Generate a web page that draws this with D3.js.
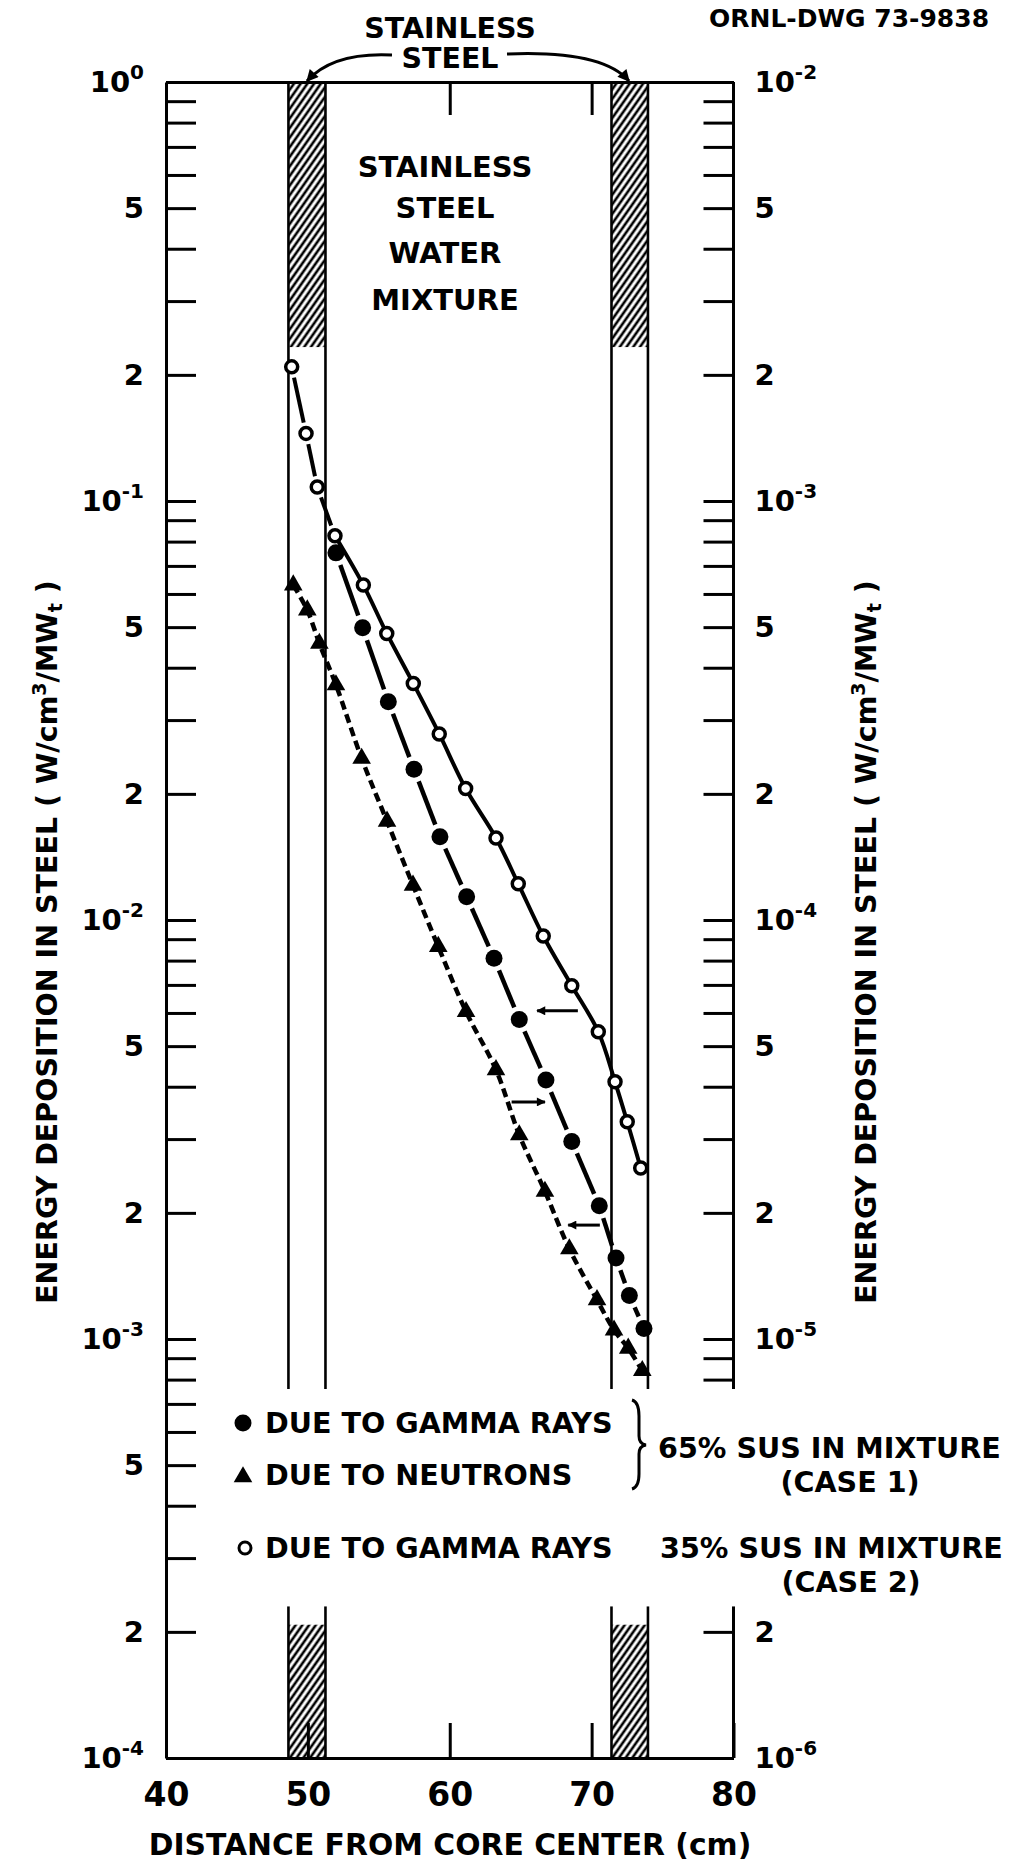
<!DOCTYPE html>
<meta charset="utf-8">
<style>
  body { margin: 0; background: #fff; }
  text { font-family: "DejaVu Sans", sans-serif; font-weight: bold; fill: #000; }
  .ylab text { font-size: 29px; }
  .xlab text { font-size: 33px; }
  .axis path, .axis line { stroke: #000; stroke-width: 3; }
</style>
<body>
<svg id="chart" width="1015" height="1867"></svg>

<script src="https://d3js.org/d3.v7.min.js"></script>
<script>
// ---- data ----
// 65% SUS (case 1), gamma rays, left axis (W/cm3/MWt)
var gamma1X = [51.98, 53.86, 55.67, 57.48, 59.31, 61.19, 63.12, 64.90, 66.78, 68.60, 70.54, 71.72, 72.66, 73.69];
var gamma1Y = [0.0752, 0.0498, 0.0332, 0.0229, 0.0158, 0.01137, 0.0081, 0.00579, 0.00415, 0.00296, 0.00208, 0.00156, 0.00127, 0.00106];
// 65% SUS (case 1), neutrons, right axis
var neutronX = [48.97, 49.96, 50.81, 51.98, 53.79, 55.58, 57.41, 59.19, 61.15, 63.26, 64.90, 66.71, 68.43, 70.38, 71.58, 72.58, 73.57];
var neutronY = [6.30e-4, 5.49e-4, 4.57e-4, 3.64e-4, 2.43e-4, 1.72e-4, 1.21e-4, 8.64e-5, 6.04e-5, 4.39e-5, 3.07e-5, 2.25e-5, 1.64e-5, 1.24e-5, 1.05e-5, 9.5e-6, 8.4e-6];
// 35% SUS (case 2), gamma rays, left axis
var gamma2X = [48.86, 49.87, 50.66, 51.91, 53.91, 55.56, 57.43, 59.26, 61.12, 63.26, 64.83, 66.59, 68.60, 70.47, 71.65, 72.51, 73.46];
var gamma2Y = [0.209, 0.145, 0.108, 0.0826, 0.0630, 0.0483, 0.0367, 0.0278, 0.0206, 0.0157, 0.0122, 0.00916, 0.00697, 0.00541, 0.00411, 0.00330, 0.00256];

// steel walls (cm) and hatched parts (left-axis values)
var steelCm = [[48.63, 51.24], [71.40, 73.97]];
var hatchBands = [[1, 0.233], [2.08e-4, 1e-4]];
var legendGap = [7.6e-4, 2.3e-4];

// little arrows saying which axis a curve uses (left-axis units)
var arrowFrom = [69.03, 64.36, 70.58];
var arrowTo = [66.16, 66.71, 68.35];
var arrowAt = [0.00607, 0.00368, 0.00187];

var xTicks = [40, 50, 60, 70, 80];
var topTicks = [60, 70];
var legendLabels = ["DUE TO GAMMA RAYS", "DUE TO NEUTRONS", "DUE TO GAMMA RAYS"];
var caseLabels = ["65% SUS IN MIXTURE", "(CASE 1)", "35% SUS IN MIXTURE", "(CASE 2)"];
var mixLabels = ["STAINLESS", "STEEL", "WATER", "MIXTURE"];

var svg = d3.select("#chart");
var x = d3.scaleLinear().domain([40, 80]).range([166, 733.5]);
var yL = d3.scaleLog().domain([1, 1e-4]).range([82, 1758]);
var yR = d3.scaleLog().domain([1e-2, 1e-6]).range([82, 1758]);

var defs = svg.append("defs");
defs.append("pattern").attr("id", "hatch").attr("patternUnits", "userSpaceOnUse")
  .attr("width", 5.5).attr("height", 10).attr("patternTransform", "rotate(35)")
  .append("line").attr("x1", 2.75).attr("y1", -1).attr("x2", 2.75).attr("y2", 11)
  .attr("stroke", "#000").attr("stroke-width", 2.6);
defs.append("marker").attr("id", "head").attr("viewBox", "0 0 10 10")
  .attr("refX", 9).attr("refY", 5).attr("markerUnits", "userSpaceOnUse")
  .attr("markerWidth", 13).attr("markerHeight", 9).attr("orient", "auto")
  .append("path").attr("d", "M0,0 L10,5 L0,10 z").attr("fill", "#000");
defs.append("marker").attr("id", "bighead").attr("viewBox", "0 0 10 10")
  .attr("refX", 9).attr("refY", 5).attr("markerUnits", "userSpaceOnUse")
  .attr("markerWidth", 22).attr("markerHeight", 12).attr("orient", "auto")
  .append("path").attr("d", "M0,0 L10,5 L0,10 z").attr("fill", "#000");

// ---- steel walls ----
steelCm.forEach(function (s) {
  hatchBands.forEach(function (b) {
    svg.append("rect").attr("x", x(s[0])).attr("width", x(s[1]) - x(s[0]))
      .attr("y", yL(b[0])).attr("height", yL(b[1]) - yL(b[0]))
      .attr("fill", "url(#hatch)");
  });
  s.forEach(function (edge) {
    [[1, legendGap[0]], [legendGap[1], 1e-4]].forEach(function (r) {
      svg.append("line").attr("x1", x(edge)).attr("x2", x(edge))
        .attr("y1", yL(r[0])).attr("y2", yL(r[1]))
        .attr("stroke", "#000").attr("stroke-width", 2.6);
    });
  });
});

// ---- axes ----
function logTicks(top, bottom) {
  var t = [];
  for (var e = Math.round(Math.log10(top)); e >= Math.round(Math.log10(bottom)); e--) {
    for (var m = 1; m <= 9; m++) {
      var v = m * Math.pow(10, e);
      if (v <= top * 1.0001 && v >= bottom * 0.9999) t.push(v);
    }
  }
  return t;
}
function decorate(g) {
  g.selectAll(".tick text").each(function (v) {
    var e = Math.floor(Math.log10(v) + 1e-9), m = Math.round(v / Math.pow(10, e));
    var t = d3.select(this).text(null);
    if (m === 1) {
      t.text("10");
      t.append("tspan").attr("dy", "-0.62em").attr("font-size", "20px").text(e);
    } else if (m === 2 || m === 5) {
      t.text(m);
    }
  });
}

var leftAxis = svg.append("g").attr("class", "axis ylab")
  .attr("transform", "translate(" + x(40) + ",0)")
  .call(d3.axisLeft(yL).tickValues(logTicks(1, 1e-4)).tickSizeInner(-30).tickSizeOuter(0).tickPadding(22));
decorate(leftAxis);

var rightTicks = logTicks(1e-2, 1e-6).filter(function (v) {
  var l = v * 100; return !(l < legendGap[0] * 1.001 && l > legendGap[1] * 0.999);
});
var rightAxis = svg.append("g").attr("class", "axis ylab")
  .attr("transform", "translate(" + x(80) + ",0)")
  .call(d3.axisRight(yR).tickValues(rightTicks).tickSizeInner(-30).tickSizeOuter(0).tickPadding(21));
rightAxis.select(".domain").remove();
decorate(rightAxis);
[[1, legendGap[0]], [legendGap[1], 1e-4]].forEach(function (r) {
  svg.append("line").attr("x1", x(80)).attr("x2", x(80))
    .attr("y1", yL(r[0])).attr("y2", yL(r[1]))
    .attr("stroke", "#000").attr("stroke-width", 3);
});

svg.append("g").attr("class", "axis xlab")
  .attr("transform", "translate(0," + yL(1e-4) + ")")
  .call(d3.axisBottom(x).tickValues(xTicks).tickSizeInner(-35).tickSizeOuter(0).tickPadding(25).tickFormat(d3.format("d")));

svg.append("g").attr("class", "axis")
  .attr("transform", "translate(0," + yL(1) + ")")
  .call(d3.axisTop(x).tickValues(topTicks).tickSizeInner(-33).tickSizeOuter(0).tickFormat(""));

svg.selectAll(".axis text").attr("font-family", null).attr("font-size", null);
svg.selectAll(".axis").attr("font-family", null).attr("font-size", null);

// ---- curves ----
function pts(xs, ys, sy) { return xs.map(function (d, i) { return [x(d), sy(ys[i])]; }); }
function gapSegments(p, cut) {
  var out = [];
  for (var i = 0; i < p.length - 1; i++) {
    var a = p[i], b = p[i + 1];
    var dx = b[0] - a[0], dy = b[1] - a[1], L = Math.hypot(dx, dy);
    out.push([a[0] + dx / L * cut, a[1] + dy / L * cut, b[0] - dx / L * cut, b[1] - dy / L * cut]);
  }
  return out;
}
var line = d3.line().curve(d3.curveCatmullRom.alpha(0.5));

var pG1 = pts(gamma1X, gamma1Y, yL);
var pN = pts(neutronX, neutronY, yR);
var pG2 = pts(gamma2X, gamma2Y, yL);

// neutrons: short dashes
svg.append("path").attr("d", line(pN)).attr("fill", "none")
  .attr("stroke", "#000").attr("stroke-width", 4.5).attr("stroke-dasharray", "9,5");

// case 1 gamma: one long dash between markers
svg.selectAll(".g1seg").data(gapSegments(pG1, 13)).enter().append("line")
  .attr("x1", function (d) { return d[0]; }).attr("y1", function (d) { return d[1]; })
  .attr("x2", function (d) { return d[2]; }).attr("y2", function (d) { return d[3]; })
  .attr("stroke", "#000").attr("stroke-width", 4.5);

// case 2 gamma: dashed inside the inner steel wall, solid after
var split = gamma2X.findIndex(function (d) { return d > steelCm[0][1]; });
svg.selectAll(".g2seg").data(gapSegments(pG2.slice(0, split + 1), 11)).enter().append("line")
  .attr("x1", function (d) { return d[0]; }).attr("y1", function (d) { return d[1]; })
  .attr("x2", function (d) { return d[2]; }).attr("y2", function (d) { return d[3]; })
  .attr("stroke", "#000").attr("stroke-width", 4);
svg.append("path").attr("d", line(pG2.slice(split))).attr("fill", "none")
  .attr("stroke", "#000").attr("stroke-width", 4);

// markers
var tri = d3.symbol().type(d3.symbolTriangle).size(150);
svg.selectAll(".tri").data(pN).enter().append("path")
  .attr("d", tri).attr("transform", function (d) { return "translate(" + d[0] + "," + d[1] + ")"; })
  .attr("fill", "#000");
svg.selectAll(".dot").data(pG1).enter().append("circle")
  .attr("cx", function (d) { return d[0]; }).attr("cy", function (d) { return d[1]; })
  .attr("r", 8.5).attr("fill", "#000");
svg.selectAll(".ring").data(pG2).enter().append("circle")
  .attr("cx", function (d) { return d[0]; }).attr("cy", function (d) { return d[1]; })
  .attr("r", 6).attr("fill", "#fff").attr("stroke", "#000").attr("stroke-width", 3.5);

// axis arrows
arrowFrom.forEach(function (f, i) {
  svg.append("line").attr("x1", x(f)).attr("x2", x(arrowTo[i]))
    .attr("y1", yL(arrowAt[i])).attr("y2", yL(arrowAt[i]))
    .attr("stroke", "#000").attr("stroke-width", 3).attr("marker-end", "url(#head)");
});

// ---- labels ----
function ytitle(xpos) {
  var t = svg.append("text").attr("transform", "translate(" + xpos + ",942) rotate(-90)")
    .attr("text-anchor", "middle").attr("font-size", 28.5)
    .text("ENERGY DEPOSITION IN STEEL ( W/cm");
  t.append("tspan").attr("dy", -11).attr("font-size", 19).text("3");
  t.append("tspan").attr("dy", 11).text("/MW");
  t.append("tspan").attr("dy", 5).attr("font-size", 19).text("t");
  t.append("tspan").attr("dy", -5).text(" )");
}
ytitle(57);
ytitle(876);

svg.append("text").attr("x", 450).attr("y", 1855).attr("text-anchor", "middle")
  .attr("font-size", 29.8).text("DISTANCE FROM CORE CENTER (cm)");

svg.append("text").attr("x", 709).attr("y", 27).attr("font-size", 25).text("ORNL-DWG 73-9838");

svg.append("text").attr("x", 450).attr("y", 38).attr("text-anchor", "middle").attr("font-size", 28.5).text("STAINLESS");
svg.append("text").attr("x", 450).attr("y", 68).attr("text-anchor", "middle").attr("font-size", 28.5).text("STEEL");
svg.append("path").attr("d", "M392,55 Q333,52 307,81").attr("fill", "none")
  .attr("stroke", "#000").attr("stroke-width", 3).attr("marker-end", "url(#bighead)");
svg.append("path").attr("d", "M507,54 Q602,50 629,81").attr("fill", "none")
  .attr("stroke", "#000").attr("stroke-width", 3).attr("marker-end", "url(#bighead)");

svg.selectAll(".mix").data(mixLabels).enter().append("text")
  .attr("x", 445).attr("y", function (d, i) { return [177, 218, 263, 310][i]; })
  .attr("text-anchor", "middle").attr("font-size", 29).text(function (d) { return d; });

// legend
var legY = [1433, 1485, 1558];
svg.selectAll(".leg").data(legendLabels).enter().append("text")
  .attr("x", 265).attr("y", function (d, i) { return legY[i]; })
  .attr("font-size", 28.6).text(function (d) { return d; });
svg.append("circle").attr("cx", 243).attr("cy", 1423).attr("r", 8.5).attr("fill", "#000");
svg.append("path").attr("d", tri).attr("transform", "translate(243,1477)").attr("fill", "#000");
svg.append("circle").attr("cx", 245).attr("cy", 1548).attr("r", 6)
  .attr("fill", "#fff").attr("stroke", "#000").attr("stroke-width", 3);

svg.append("path").attr("d", "M632,1400 Q639,1402 639,1416 L639,1436 Q639,1444 646,1445 Q639,1446 639,1454 L639,1474 Q639,1487 632,1489")
  .attr("fill", "none").attr("stroke", "#000").attr("stroke-width", 3);

var caseX = [658, 850, 660, 851], caseY = [1458, 1492, 1558, 1592], caseA = ["start", "middle", "start", "middle"];
svg.selectAll(".case").data(caseLabels).enter().append("text")
  .attr("x", function (d, i) { return caseX[i]; }).attr("y", function (d, i) { return caseY[i]; })
  .attr("text-anchor", function (d, i) { return caseA[i]; })
  .attr("font-size", 28.6).text(function (d) { return d; });
</script>
</body>
